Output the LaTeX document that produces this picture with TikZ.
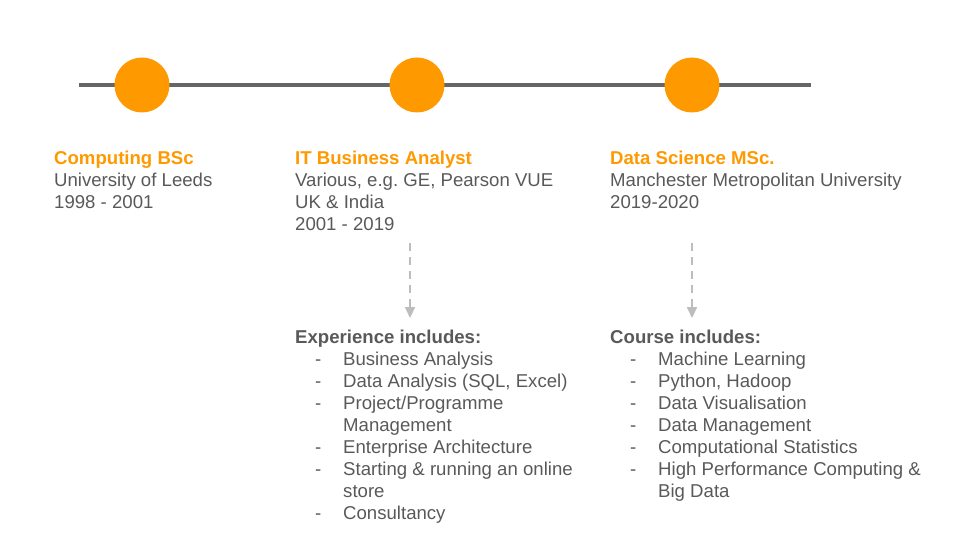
\documentclass[tikz,border=0pt]{standalone}
\usepackage{fontspec}
\setmainfont{Liberation Sans}
\usetikzlibrary{arrows.meta}
\frenchspacing
\definecolor{accent}{HTML}{FF9900}
\definecolor{axis}{HTML}{666666}
\definecolor{body}{HTML}{595959}
\definecolor{guide}{HTML}{BDBDBD}
% list entry with a hanging dash, and its continuation line
\newcommand{\itm}[1]{\hspace*{20pt}\makebox[28pt][l]{-}#1}
\newcommand{\cnt}[1]{\hspace*{48pt}#1}
% fixed-height strut so the top anchor sits 15pt above the first baseline
\newcommand{\topstrut}{\rule{0pt}{15pt}}
\tikzset{
  milestone/.style={circle, fill=accent, minimum size=55pt, inner sep=0pt},
  textblock/.style={anchor=north west, align=left, inner sep=0pt, text=body,
    font=\fontsize{18.6pt}{22pt}\selectfont},
  guideline/.style={guide, line width=2.2pt, dash pattern=on 8pt off 6pt,
    -{Triangle[length=11pt,width=10pt]}}
}
\begin{document}
\begin{tikzpicture}[x=1pt, y=-1pt]
  \useasboundingbox (0,0) rectangle (960,540);

  % timeline axis and milestones
  \coordinate (axisL) at (79,85);
  \coordinate (axisR) at (811,85);
  \draw[axis, line width=4pt] (axisL) -- (axisR);
  \node[milestone] (m1) at (142,85) {};
  \node[milestone] (m2) at (417,85) {};
  \node[milestone] (m3) at (692,85) {};

  % milestone descriptions
  \node[textblock] (t1) at (54,149.5)
    {\topstrut{\color{accent}\bfseries Computing BSc}\\University of Leeds\\1998 - 2001};
  \node[textblock] (t2) at (295,149.5)
    {\topstrut{\color{accent}\bfseries IT Business Analyst}\\Various, e.g. GE, Pearson VUE\\UK \& India\\2001 - 2019};
  \node[textblock] (t3) at (610,149.5)
    {\topstrut{\color{accent}\bfseries Data Science MSc.}\\Manchester Metropolitan University\\2019-2020};

  % detail lists
  \node[textblock] (d2) at (295,328.5)
    {\topstrut\textbf{Experience includes:}\\
     \itm{Business Analysis}\\
     \itm{Data Analysis (SQL, Excel)}\\
     \itm{Project/Programme}\\
     \cnt{Management}\\
     \itm{Enterprise Architecture}\\
     \itm{Starting \& running an online}\\
     \cnt{store}\\
     \itm{Consultancy}};
  \node[textblock] (d3) at (610,328.5)
    {\topstrut\textbf{Course includes:}\\
     \itm{Machine Learning}\\
     \itm{Python, Hadoop}\\
     \itm{Data Visualisation}\\
     \itm{Data Management}\\
     \itm{Computational Statistics}\\
     \itm{High Performance Computing \&}\\
     \cnt{Big Data}};

  % dashed pointers from each role to its details
  \coordinate (a2s) at (410,243);
  \coordinate (a2e) at (410,318);
  \coordinate (a3s) at (692,243);
  \coordinate (a3e) at (692,318);
  \draw[guideline] (a2s) -- (a2e);
  \draw[guideline] (a3s) -- (a3e);
\end{tikzpicture}
\end{document}
